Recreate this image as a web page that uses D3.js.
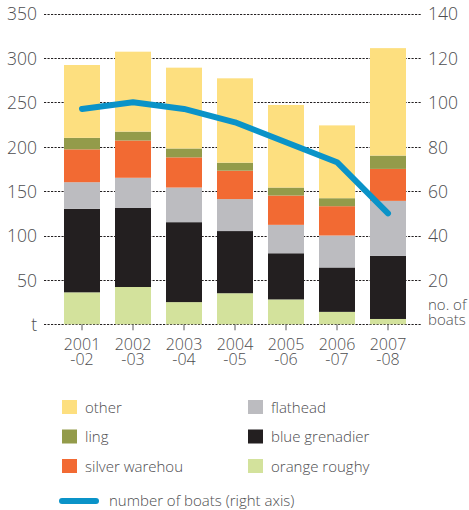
<!DOCTYPE html>
<html><head><meta charset="utf-8">
<script src="https://cdn.jsdelivr.net/npm/d3@7"></script>
<style>body{margin:0;background:#fff}svg{display:block}text{font-family:"Open Sans",sans-serif;font-weight:300;fill:#4d4d4f}</style>
</head><body><div id="chart"></div>
<script>
const years = ["2001", "2002", "2003", "2004", "2005", "2006", "2007"];
const yearSuffix = ["-02", "-03", "-04", "-05", "-06", "-07", "-08"];
const orangeRoughy = [36, 42, 25, 35, 28, 14, 6];
const blueGrenadier = [94, 89, 90, 70, 52, 50, 71];
const flathead = [30, 34, 39, 36, 32, 36, 62];
const silverWarehou = [37, 42, 34, 32, 33, 33, 36];
const ling = [13, 10, 10, 9, 9, 9, 15];
const other = [82, 90, 91, 95, 93, 82, 121];
const boats = [97, 100, 97, 91, 82, 73, 50];
const leftTicks = [50, 100, 150, 200, 250, 300, 350];
const rightTicks = [20, 40, 60, 80, 100, 120, 140];
const seriesNames = ["orange roughy", "blue grenadier", "flathead", "silver warehou", "ling", "other"];
const seriesColors = ["#d3e29c", "#231f20", "#bcbcc0", "#f26a33", "#939b4a", "#fddf7f"];
const lineColor = "#0a93c8";

const W = 469, H = 510;
const svg = d3.select("#chart").append("svg").attr("width", W).attr("height", H);

const x = d3.scaleBand().domain(years).range([56.5, 413.5]).paddingInner(15/51).paddingOuter(7.5/51);
const y = d3.scaleLinear().domain([0, 350]).range([324.3, 13.5]);
const y2 = d3.scaleLinear().domain([0, 140]).range([324.3, 13.5]);

// grid
const grid = svg.append("g");
[0, ...leftTicks].forEach(t => {
  grid.append("line").attr("x1", 44).attr("x2", 422)
    .attr("y1", Math.round(y(t)) + 0.5).attr("y2", Math.round(y(t)) + 0.5)
    .attr("stroke", "#231f20").attr("stroke-width", 1).attr("stroke-dasharray", "2.2,1.3");
});

// left axis labels
const la = svg.append("g").attr("transform", "translate(37,0)")
  .call(d3.axisLeft(y).tickValues(leftTicks).tickSize(0).tickPadding(0));
la.select(".domain").remove();
la.selectAll("text").attr("font-size", 17.5).attr("fill", null).attr("font-family", null).attr("dy", "0.36em");
svg.append("text").attr("x", 37).attr("y", y(0)).attr("dy", "0.36em").attr("text-anchor", "end").attr("font-size", 17.5).text("t");

// right axis labels
const ra = svg.append("g").attr("transform", "translate(428,0)")
  .call(d3.axisRight(y2).tickValues(rightTicks).tickSize(0).tickPadding(0));
ra.select(".domain").remove();
ra.selectAll("text").attr("font-size", 17.5).attr("fill", null).attr("font-family", null).attr("dy", "0.36em");
svg.append("text").attr("x", 428).attr("y", 310).attr("font-size", 15).text("no. of");
svg.append("text").attr("x", 428).attr("y", 324.5).attr("font-size", 15).text("boats");

// stacked bars
const data = years.map((yr, i) => ({year: yr, v: [orangeRoughy[i], blueGrenadier[i], flathead[i], silverWarehou[i], ling[i], other[i]]}));
const stack = d3.stack().keys(d3.range(6)).value((d, k) => d.v[k]);
const layers = stack(data);
svg.append("g").selectAll("g").data(layers).join("g").attr("fill", (d, i) => seriesColors[i])
  .selectAll("rect").data(d => d).join("rect")
  .attr("x", d => x(d.data.year)).attr("width", x.bandwidth())
  .attr("y", d => y(d[1])).attr("height", d => y(d[0]) - y(d[1]));

// x ticks & labels
const xa = svg.append("g").attr("transform", `translate(0,${y(0)})`)
  .call(d3.axisBottom(x).tickSize(6).tickFormat(""));
xa.select(".domain").remove();
xa.selectAll("line").attr("stroke", "#58595b");
years.forEach((yr, i) => {
  const cx = x(yr) + x.bandwidth() / 2;
  const t = svg.append("text").attr("x", cx).attr("text-anchor", "middle").attr("font-size", 16);
  t.append("tspan").attr("x", cx).attr("y", 349.5).text(yr);
  t.append("tspan").attr("x", cx).attr("y", 364.5).text(yearSuffix[i]);
});

// line
const line = d3.line().x((d, i) => x(years[i]) + x.bandwidth() / 2).y(d => y2(d));
svg.append("path").datum(boats).attr("d", line).attr("fill", "none")
  .attr("stroke", lineColor).attr("stroke-width", 6).attr("stroke-linecap", "round").attr("stroke-linejoin", "round");

// legend
const legendItems = [
  {name: "other", col: 0, row: 0, c: seriesColors[5]},
  {name: "ling", col: 0, row: 1, c: seriesColors[4]},
  {name: "silver warehou", col: 0, row: 2, c: seriesColors[3]},
  {name: "flathead", col: 1, row: 0, c: seriesColors[2]},
  {name: "blue grenadier", col: 1, row: 1, c: seriesColors[1]},
  {name: "orange roughy", col: 1, row: 2, c: seriesColors[0]}
];
const lg = svg.append("g");
legendItems.forEach(it => {
  const lx = it.col ? 248 : 62, ly = 400 + it.row * 29.5;
  lg.append("rect").attr("x", lx).attr("y", ly).attr("width", 15).attr("height", 14).attr("fill", it.c);
  lg.append("text").attr("x", lx + 23).attr("y", ly + 12.5).attr("font-size", 15).text(it.name);
});
lg.append("line").attr("x1", 62).attr("x2", 96).attr("y1", 501).attr("y2", 501)
  .attr("stroke", lineColor).attr("stroke-width", 6).attr("stroke-linecap", "round");
lg.append("text").attr("x", 109).attr("y", 506).attr("font-size", 15).text("number of boats (right axis)");
</script></body></html>
